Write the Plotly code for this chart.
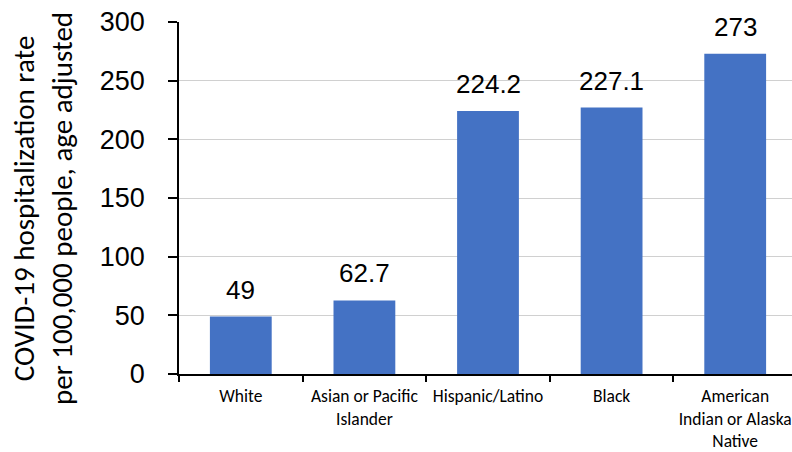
import plotly.graph_objects as go

categories = ["White", "Asian or Pacific<br>Islander", "Hispanic/Latino", "Black",
              "American<br>Indian or Alaska<br>Native"]
values = [49, 62.7, 224.2, 227.1, 273]
value_labels = ["49", "62.7", "224.2", "227.1", "273"]
y_ticks = [0, 50, 100, 150, 200, 250, 300]

W, H = 792, 452
ML, MR, MT, MB = 179, 0, 22, 78
plot_w = W - ML - MR
plot_h = H - MT - MB
cat_px = 123.6

fig = go.Figure()
fig.add_trace(go.Bar(
    x=categories, y=values, width=0.5,
    marker=dict(color="#4472C4", line=dict(width=0)),
    hoverinfo="skip",
))

for c, v, t in zip(categories, values, value_labels):
    fig.add_annotation(x=c, y=v, text=t, showarrow=False, yanchor="bottom",
                       yshift=10, font=dict(family="Liberation Sans, Arial", size=26, color="#000"))

fig.add_annotation(
    xref="paper", yref="paper",
    x=(43 - ML) / plot_w, y=(H - MB - 209) / plot_h,
    text="COVID-19 hospitalization rate<br>per 100,000 people, age adjusted",
    textangle=-90, showarrow=False, xanchor="center", yanchor="middle",
    font=dict(family="Carlito, Lato, sans-serif", size=29, color="#000"),
)

fig.update_layout(
    width=W, height=H,
    margin=dict(l=ML, r=MR, t=MT, b=MB, pad=0, autoexpand=False),
    paper_bgcolor="white", plot_bgcolor="white",
    showlegend=False,
    bargap=0.5,
)
fig.update_xaxes(
    type="category", automargin=False,
    range=[-0.5, -0.5 + plot_w / cat_px],
    tickson="boundaries", ticks="outside", ticklen=6, tickwidth=1.5, tickcolor="#000",
    showline=True, linecolor="#000", linewidth=1.5,
    showgrid=False, zeroline=False,
    tickfont=dict(family="Carlito, Lato, sans-serif", size=17.5, color="#000"),
    ticklabelstandoff=5,
)
fig.update_yaxes(
    range=[0, 300], tickvals=y_ticks, ticktext=[str(v) for v in y_ticks],
    automargin=False,
    ticks="outside", ticklen=9, tickwidth=1.5, tickcolor="#000",
    showline=True, linecolor="#000", linewidth=1.5,
    showgrid=True, gridcolor="#d0d0d0", gridwidth=1, zeroline=False,
    tickfont=dict(family="Liberation Sans, Arial", size=27, color="#000"),
    ticklabelstandoff=18,
)

fig.write_html("out.html")
